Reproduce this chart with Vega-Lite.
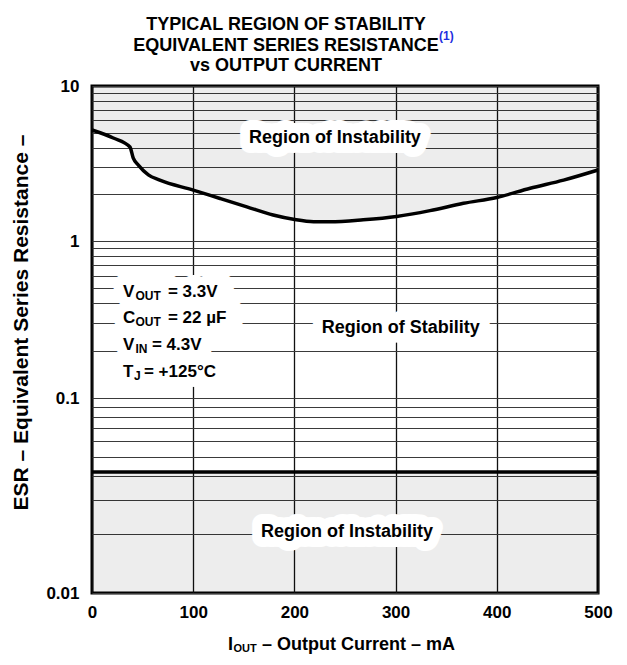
{
  "$schema": "https://vega.github.io/schema/vega-lite/v6.json",
  "width": 506,
  "height": 507,
  "autosize": "none",
  "padding": {"left": 92, "top": 86, "right": 29, "bottom": 72},
  "background": "white",
  "title": {
    "text": ["TYPICAL REGION OF STABILITY", "EQUIVALENT SERIES RESISTANCE", "vs OUTPUT CURRENT"],
    "font": "Liberation Sans",
    "fontSize": 18,
    "fontWeight": "bold",
    "lineHeight": 20.5,
    "anchor": "middle",
    "frame": "group",
    "dx": -59,
    "offset": -45,
    "color": "black"
  },
  "config": {
    "view": {"stroke": "black", "strokeWidth": 3},
    "font": "Liberation Sans",
    "text": {"font": "Liberation Sans", "fontWeight": "bold", "fontSize": 17, "color": "black"}
  },
  "datasets": {
    "curve": [
      {"I": 0, "ESR": 5.2}, {"I": 21, "ESR": 4.62}, {"I": 37.5, "ESR": 4.04}, {"I": 40.8, "ESR": 3.42},
      {"I": 45.8, "ESR": 3.09}, {"I": 55.7, "ESR": 2.67}, {"I": 67, "ESR": 2.47}, {"I": 100, "ESR": 2.13},
      {"I": 126.5, "ESR": 1.88}, {"I": 153, "ESR": 1.66}, {"I": 179, "ESR": 1.47}, {"I": 199, "ESR": 1.38},
      {"I": 219, "ESR": 1.33}, {"I": 235, "ESR": 1.33}, {"I": 268, "ESR": 1.37}, {"I": 301, "ESR": 1.44},
      {"I": 334, "ESR": 1.57}, {"I": 367, "ESR": 1.75}, {"I": 400, "ESR": 1.91}, {"I": 433, "ESR": 2.19},
      {"I": 466, "ESR": 2.47}, {"I": 500, "ESR": 2.87}
    ],
    "floor": [{"ESR": 0.0417}],
    "regions": [
      {"text": "Region of Instability", "I": 240, "ESR": 4.6},
      {"text": "Region of Stability", "I": 305, "ESR": 0.279},
      {"text": "Region of Instability", "I": 252, "ESR": 0.0206}
    ],
    "params": [
      {"line": 1, "main": "V", "sub": "OUT", "rest": "= 3.3V", "full": "VOUT = 3.3V", "I": 30.6, "ESR": 0.473},
      {"line": 2, "main": "C", "sub": "OUT", "rest": "= 22 µF", "full": "COUT = 22 µF", "I": 30.6, "ESR": 0.323},
      {"line": 3, "main": "V", "sub": "IN", "rest": "= 4.3V", "full": "VIN = 4.3V", "I": 30.6, "ESR": 0.218},
      {"line": 4, "main": "T", "sub": "J", "rest": "= +125°C", "full": "TJ = +125°C", "I": 30.6, "ESR": 0.1465}
    ],
    "xtitle": [{"I": 134.4, "ESR": 0.01, "main": "I", "sub": "OUT", "rest": "– Output Current – mA"}],
    "note": [{"I": 343, "ESR": 10, "t": "(1)"}]
  },
  "layer": [
    {
      "data": {"name": "curve"},
      "mark": {"type": "area", "color": "black", "fillOpacity": 0.07, "interpolate": "monotone"},
      "encoding": {
        "x": {
          "field": "I", "type": "quantitative",
          "scale": {"domain": [0, 500], "nice": false, "zero": false},
          "axis": {
            "values": [0, 100, 200, 300, 400, 500],
            "grid": true, "gridColor": "#111", "gridWidth": 1.3,
            "domain": false, "ticks": false,
            "labelPadding": 11, "labelFontSize": 17, "labelFont": "Liberation Sans", "labelFontWeight": "bold", "labelColor": "black",
            "labelFlush": false,
            "title": null
          }
        },
        "y": {
          "field": "ESR", "type": "quantitative",
          "scale": {"type": "log", "domain": [0.01, 0.1, 1, 10], "range": [507, 312, 155, 0], "nice": false},
          "axis": {
            "values": [0.01, 0.02, 0.03, 0.04, 0.05, 0.06, 0.07, 0.08, 0.09, 0.1, 0.2, 0.3, 0.4, 0.5, 0.6, 0.7, 0.8, 0.9, 1, 2, 3, 4, 5, 6, 7, 8, 9, 10],
            "format": "~g",
            "labelExpr": "indexof([0.01, 0.1, 1, 10], datum.value) >= 0 ? datum.label : ''",
            "grid": true, "gridColor": "#3a3a3a", "gridWidth": 1.2,
            "domain": false, "ticks": false,
            "labelPadding": 13, "labelFontSize": 17, "labelFont": "Liberation Sans", "labelFontWeight": "bold", "labelColor": "black",
            "labelFlush": false,
            "title": "ESR – Equivalent Series Resistance – ",
            "titleFont": "Liberation Sans", "titleFontSize": 21, "titleFontWeight": "bold", "titleColor": "black",
            "titleX": -71, "titleY": 236, "titleAngle": -90, "titleAlign": "center", "titleBaseline": "middle"
          }
        },
        "y2": {"datum": 10}
      }
    },
    {
      "data": {"name": "floor"},
      "mark": {"type": "rect", "color": "black", "opacity": 0.07},
      "encoding": {"y": {"field": "ESR", "type": "quantitative"}, "y2": {"datum": 0.01}}
    },
    {
      "data": {"name": "floor"},
      "mark": {"type": "rule", "color": "black", "strokeWidth": 3.5},
      "encoding": {"y": {"field": "ESR", "type": "quantitative"}}
    },
    {
      "data": {"name": "curve"},
      "mark": {"type": "line", "color": "black", "strokeWidth": 3.5, "interpolate": "monotone"},
      "encoding": {"x": {"field": "I", "type": "quantitative"}, "y": {"field": "ESR", "type": "quantitative"}}
    },
    {
      "data": {"name": "regions"},
      "mark": {"type": "text", "fontSize": 18, "fill": "white", "stroke": "white", "strokeWidth": 20, "strokeJoin": "round", "baseline": "middle"},
      "encoding": {"x": {"field": "I", "type": "quantitative"}, "y": {"field": "ESR", "type": "quantitative"}, "text": {"field": "text"}}
    },
    {
      "data": {"name": "regions"},
      "mark": {"type": "text", "fontSize": 18, "baseline": "middle"},
      "encoding": {"x": {"field": "I", "type": "quantitative"}, "y": {"field": "ESR", "type": "quantitative"}, "text": {"field": "text"}}
    },
    {
      "data": {"name": "params"},
      "mark": {"type": "text", "fill": "white", "stroke": "white", "strokeWidth": 20, "strokeJoin": "round", "align": "left", "baseline": "middle"},
      "encoding": {"x": {"field": "I", "type": "quantitative"}, "y": {"field": "ESR", "type": "quantitative"}, "text": {"field": "full"}}
    },
    {
      "data": {"name": "params"},
      "mark": {"type": "text", "align": "left", "baseline": "middle"},
      "encoding": {"x": {"field": "I", "type": "quantitative"}, "y": {"field": "ESR", "type": "quantitative"}, "text": {"field": "main"}}
    },
    {
      "data": {"name": "params"},
      "transform": [{"filter": "datum.line <= 3"}],
      "mark": {"type": "text", "align": "left", "baseline": "middle", "fontSize": 12, "dx": 12.5, "dy": 4},
      "encoding": {"x": {"field": "I", "type": "quantitative"}, "y": {"field": "ESR", "type": "quantitative"}, "text": {"field": "sub"}}
    },
    {
      "data": {"name": "params"},
      "transform": [{"filter": "datum.line == 4"}],
      "mark": {"type": "text", "align": "left", "baseline": "middle", "fontSize": 12, "dx": 11, "dy": 4},
      "encoding": {"x": {"field": "I", "type": "quantitative"}, "y": {"field": "ESR", "type": "quantitative"}, "text": {"field": "sub"}}
    },
    {
      "data": {"name": "params"},
      "transform": [{"filter": "datum.line <= 2"}],
      "mark": {"type": "text", "align": "left", "baseline": "middle", "dx": 45},
      "encoding": {"x": {"field": "I", "type": "quantitative"}, "y": {"field": "ESR", "type": "quantitative"}, "text": {"field": "rest"}}
    },
    {
      "data": {"name": "params"},
      "transform": [{"filter": "datum.line == 3"}],
      "mark": {"type": "text", "align": "left", "baseline": "middle", "dx": 29},
      "encoding": {"x": {"field": "I", "type": "quantitative"}, "y": {"field": "ESR", "type": "quantitative"}, "text": {"field": "rest"}}
    },
    {
      "data": {"name": "params"},
      "transform": [{"filter": "datum.line == 4"}],
      "mark": {"type": "text", "align": "left", "baseline": "middle", "dx": 21},
      "encoding": {"x": {"field": "I", "type": "quantitative"}, "y": {"field": "ESR", "type": "quantitative"}, "text": {"field": "rest"}}
    },
    {
      "data": {"name": "xtitle"},
      "mark": {"type": "text", "align": "left", "baseline": "middle", "fontSize": 18, "dy": 52},
      "encoding": {"x": {"field": "I", "type": "quantitative"}, "y": {"field": "ESR", "type": "quantitative"}, "text": {"field": "main"}}
    },
    {
      "data": {"name": "xtitle"},
      "mark": {"type": "text", "align": "left", "baseline": "middle", "fontSize": 11, "dx": 5.5, "dy": 56},
      "encoding": {"x": {"field": "I", "type": "quantitative"}, "y": {"field": "ESR", "type": "quantitative"}, "text": {"field": "sub"}}
    },
    {
      "data": {"name": "xtitle"},
      "mark": {"type": "text", "align": "left", "baseline": "middle", "fontSize": 18, "dx": 34, "dy": 52},
      "encoding": {"x": {"field": "I", "type": "quantitative"}, "y": {"field": "ESR", "type": "quantitative"}, "text": {"field": "rest"}}
    },
    {
      "data": {"name": "note"},
      "mark": {"type": "text", "align": "left", "baseline": "middle", "fontSize": 12, "color": "#1f2fe0", "dy": -50},
      "encoding": {"x": {"field": "I", "type": "quantitative"}, "y": {"field": "ESR", "type": "quantitative"}, "text": {"field": "t"}}
    }
  ]
}
